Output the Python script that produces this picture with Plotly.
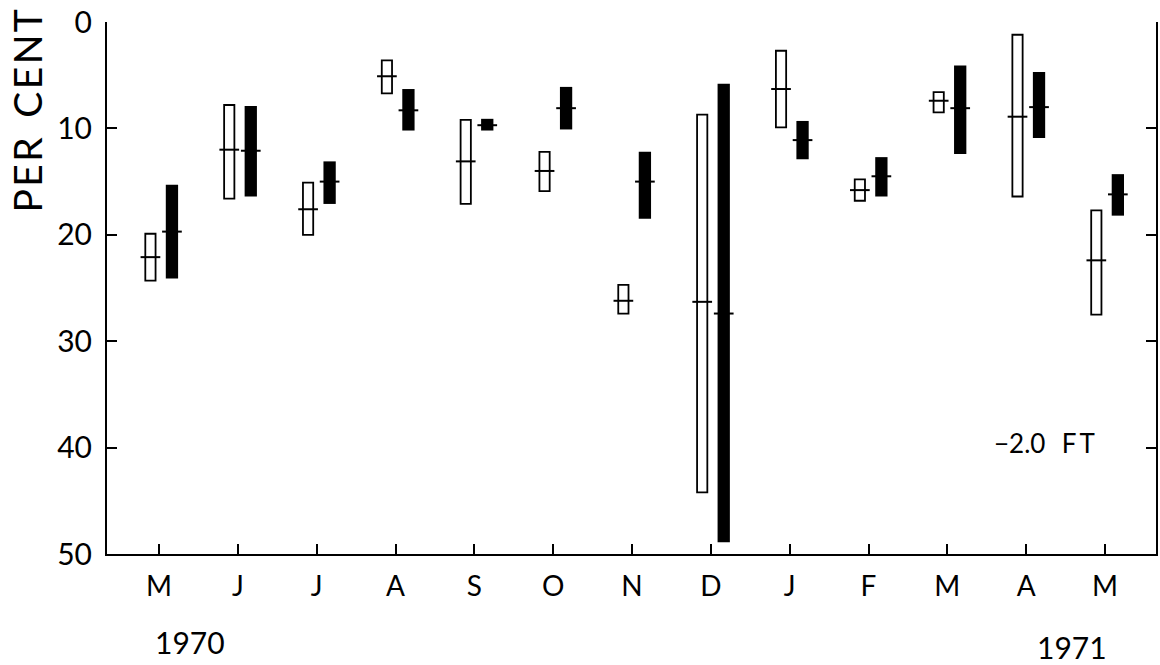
import plotly.graph_objects as go

# Sampling months, May 1970 through May 1971
months = ["M", "J", "J", "A", "S", "O", "N", "D", "J", "F", "M", "A", "M"]

# Open bars: range (top, bottom) and mean, per cent
open_top = [19.9, 7.8, 15.1, 3.6, 9.2, 12.2, 24.7, 8.7, 2.7, 14.8, 6.6, 1.2, 17.7]
open_bottom = [24.3, 16.6, 20.0, 6.7, 17.1, 15.9, 27.4, 44.2, 9.9, 16.8, 8.5, 16.4, 27.5]
open_mean = [22.1, 12.0, 17.6, 5.1, 13.1, 14.0, 26.2, 26.3, 6.3, 15.8, 7.4, 8.9, 22.4]

# Filled bars: range (top, bottom) and mean, per cent
fill_top = [15.3, 7.9, 13.1, 6.3, 9.1, 6.1, 12.2, 5.8, 9.3, 12.7, 4.1, 4.7, 14.3]
fill_bottom = [24.1, 16.4, 17.1, 10.2, 10.2, 10.1, 18.5, 48.9, 12.9, 16.4, 12.4, 10.9, 18.2]
fill_mean = [19.7, 12.1, 15.0, 8.3, 9.7, 8.1, 15.0, 27.4, 11.1, 14.5, 8.1, 8.0, 16.2]

y_ticks = [0, 10, 20, 30, 40, 50]

FONT = "Lato, 'Noto Sans', sans-serif"
xi = list(range(len(months)))

OPEN_OFF, OPEN_W = -0.11, 0.13
FILL_OFF, FILL_W = 0.163, 0.156
MEAN_HALF = 0.125

fig = go.Figure()

fig.add_trace(go.Bar(
    x=xi, base=open_top,
    y=[b - t for t, b in zip(open_top, open_bottom)],
    width=OPEN_W, offset=OPEN_OFF - OPEN_W / 2,
    marker=dict(color="white", line=dict(color="black", width=1.8)),
    showlegend=False, hoverinfo="skip",
))
fig.add_trace(go.Bar(
    x=xi, base=fill_top,
    y=[b - t for t, b in zip(fill_top, fill_bottom)],
    width=FILL_W, offset=FILL_OFF - FILL_W / 2,
    marker=dict(color="black", line=dict(color="black", width=0)),
    showlegend=False, hoverinfo="skip",
))


def mean_segments(offset, means, half):
    xs, ys = [], []
    for i, m in zip(xi, means):
        c = i + offset
        xs += [c - half, c + half, None]
        ys += [m, m, None]
    return xs, ys


for off, means in ((OPEN_OFF, open_mean), (FILL_OFF, fill_mean)):
    mx, my = mean_segments(off, means, MEAN_HALF)
    fig.add_trace(go.Scatter(
        x=mx, y=my, mode="lines",
        line=dict(color="black", width=2),
        showlegend=False, hoverinfo="skip",
    ))

fig.update_layout(
    width=1160, height=665,
    margin=dict(l=107, r=2, t=22, b=111),
    paper_bgcolor="white", plot_bgcolor="white",
    barmode="overlay",
    font=dict(family=FONT, color="black"),
    xaxis=dict(
        range=[-0.661, 12.647],
        tickmode="array", tickvals=xi, ticktext=months,
        ticks="inside", ticklen=10, tickwidth=1.5, tickcolor="black",
        showline=True, linecolor="black", linewidth=2,
        showgrid=False, zeroline=False,
        tickfont=dict(size=28, family=FONT, color="black"),
        ticklabelstandoff=6,
    ),
    yaxis=dict(
        range=[50, 0],
        tickmode="array", tickvals=y_ticks,
        ticks="inside", ticklen=10, tickwidth=1.5, tickcolor="black",
        showline=True, linecolor="black", linewidth=2, mirror="ticks",
        showgrid=False, zeroline=False,
        tickfont=dict(size=30, family=FONT, color="black"),
        ticklabelstandoff=7,
    ),
)

fig.add_annotation(
    text="P\u200aE\u200aR\u2002C\u200aE\u200aN\u200aT", textangle=-90,
    xref="paper", yref="y", x=-0.0761, y=8.4,
    xanchor="center", yanchor="middle",
    showarrow=False, font=dict(size=39, family=FONT, color="black"),
)
fig.add_annotation(
    text="1970", xref="x", yref="paper", x=0, xshift=31, y=-0.1656,
    xanchor="center", yanchor="middle",
    showarrow=False, font=dict(size=30, family=FONT, color="black"),
)
fig.add_annotation(
    text="1971", xref="x", yref="paper", x=12, xshift=-33, y=-0.175,
    xanchor="center", yanchor="middle",
    showarrow=False, font=dict(size=30, family=FONT, color="black"),
)
fig.add_annotation(
    text="\u22122.0\u2002\u2009F\u2009T", xref="x", yref="y", x=11.23, y=39.6,
    xanchor="center", yanchor="middle",
    showarrow=False, font=dict(size=26, family=FONT, color="black"),
)

fig.write_html("out.html")
